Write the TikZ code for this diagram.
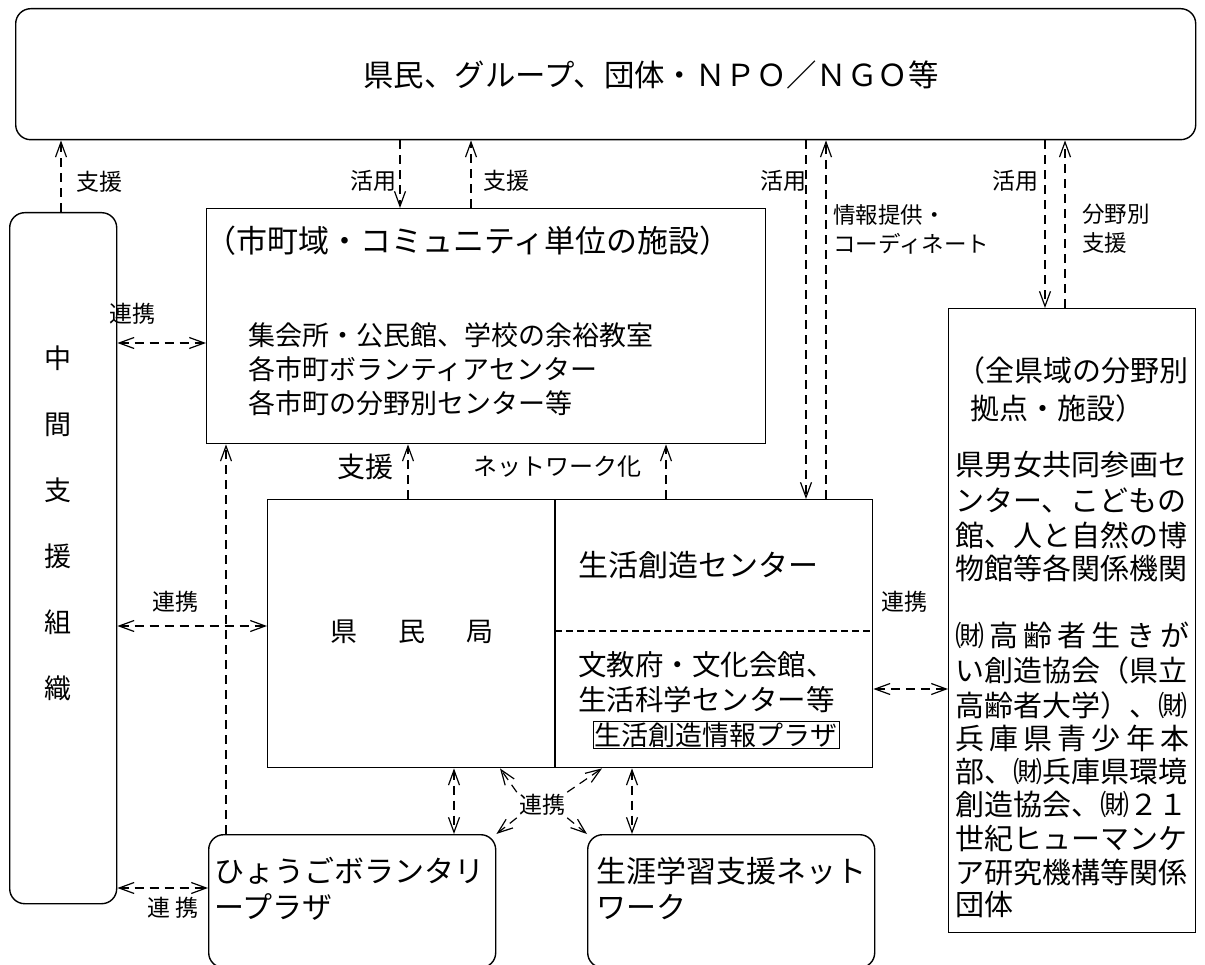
\documentclass[tikz,border=0pt]{standalone}
\usepackage{fontspec}
\setmainfont{Noto Sans CJK JP}
\usetikzlibrary{arrows.meta,positioning}
\newcommand\gr[1]{\fontsize{#1}{#1}\selectfont}
\tikzset{
  %Define standard arrow tip
  >={Straight Barb[length=15pt,width=11pt,line width=1.2pt]},
  %Define style for boxes
  kasten/.style={
    draw=black, line width=1.4pt,
    inner sep=0pt,
    anchor=north west},
  rkasten/.style={kasten, rounded corners=15pt},
  % Define arrow style
  pil/.style={
    line width=1.2pt,
    dash pattern=on 9pt off 6pt},
  % Define style for texts
  txt/.style={inner sep=0pt, font=\gr{27}},
  lbl/.style={inner sep=0pt, font=\gr{23}}
}

\begin{document}
\begin{tikzpicture}[x=1pt,y=-1pt]
  \useasboundingbox (0,0) rectangle (1205,965);
  % boxes
  \node[rkasten, minimum width=1180pt, minimum height=131pt] (top) at (15,8) {};
  \node[rkasten, minimum width=107pt, minimum height=691pt] (lbox) at (9,212) {};
  \node[kasten, minimum width=559pt, minimum height=235pt] (muni) at (206,208) {};
  \node[kasten, minimum width=605pt, minimum height=268pt] (kyoku) at (267,499) {};
  \node[kasten, minimum width=247pt, minimum height=624pt] (rbox) at (948,308) {};
  \node[rkasten, minimum width=287pt, minimum height=133pt] (hyogo) at (208,834) {};
  \node[rkasten, minimum width=287pt, minimum height=133pt] (shogai) at (587,834) {};
  \draw[line width=1.4pt] (555,0 |- kyoku.north) -- (555,0 |- kyoku.south);
  \draw[line width=1.2pt, dash pattern=on 7pt off 4pt] (555,631) -- (kyoku.east |- 0,631);

  % texts
  \node[txt, font=\gr{30.4}] (toptxt) at (651,75) {県民、グループ、団体・ＮＰＯ／ＮＧＯ等};
  \node[txt, align=center, font=\fontsize{27}{66}\selectfont] (lboxtxt) at (58,523)
    {中\\間\\支\\援\\組\\織};
  \node[txt, font=\gr{31}] (munitxt) at (468,241) {（市町域・コミュニティ単位の施設）};
  \node[txt, anchor=north west, align=left, font=\fontsize{27}{34}\selectfont] (munilist) at (248,322)
    {集会所・公民館、学校の余裕教室\\各市町ボランティアセンター\\各市町の分野別センター等};
  \node[txt] (kyokutxt) at (412,632) {県\hspace{41pt}民\hspace{41pt}局};
  \node[txt, anchor=west, font=\gr{30}] (seikatsu) at (578,565) {生活創造センター};
  \node[txt, anchor=north west, align=left, font=\fontsize{28.5}{35}\selectfont] (bunkyo) at (578,651)
    {文教府・文化会館、\\生活科学センター等};
  \node[draw, line width=1pt, inner sep=1.5pt, font=\gr{27}] (plaza) at (716,735) {生活創造情報プラザ};
  \node[txt, anchor=west, font=\gr{29}] (rhead1) at (956,370) {（全県域の分野別};
  \node[txt, anchor=west, font=\gr{29}] (rhead2) at (970,408) {拠点・施設）};
  \foreach \y/\t [count=\i] in {465/県男女共同参画セ, 500/ンター、こどもの,
      535/館、人と自然の博, 568/物館等各関係機関, 635/㈶ 高 齢 者 生 き が,
      670/い創造協会（県立, 705/高齢者大学）、㈶, 738/兵 庫 県 青 少 年 本,
      772/部、㈶兵庫県環境, 805/創造協会、㈶２１, 838/世紀ヒューマンケ,
      872/ア研究機構等関係}
    \node[txt, anchor=west, font=\gr{29}] (rl\i) at (955,\y) {\makebox[234pt][s]{\t}};
  \node[txt, anchor=west, font=\gr{29}] (rl13) at (955,905) {団体};
  \node[txt, anchor=north west, align=left, font=\fontsize{30}{36}\selectfont] (hyogotxt) at (214,857)
    {ひょうごボランタリ\\ープラザ};
  \node[txt, anchor=north west, align=left, font=\fontsize{30}{36}\selectfont] (shogaitxt) at (596,857)
    {生涯学習支援ネット\\ワーク};

  % connectors to the top box
  \draw[pil,->] (61,0 |- lbox.north) -- (61,0 |- top.south);
  \draw[pil,->] (400,0 |- top.south) -- (400,0 |- muni.north);
  \draw[pil,->] (471,0 |- muni.north) -- (471,0 |- top.south);
  \draw[pil,->] (806,0 |- top.south) -- (806,0 |- kyoku.north);
  \draw[pil,->] (826,0 |- kyoku.north) -- (826,0 |- top.south);
  \draw[pil,->] (1045,0 |- top.south) -- (1045,0 |- rbox.north);
  \draw[pil,->] (1065,0 |- rbox.north) -- (1065,0 |- top.south);
  \node[lbl] (l1) at (99,182) {支援};
  \node[lbl] (l2) at (373,181) {活用};
  \node[lbl] (l3) at (506,181) {支援};
  \node[lbl] (l4) at (783,181) {活用};
  \node[lbl, anchor=west, align=left, font=\fontsize{22.5}{29}\selectfont] (l5) at (833,229)
    {情報提供・\\コーディネート};
  \node[lbl] (l6) at (1015,181) {活用};
  \node[lbl, anchor=west, align=left, font=\fontsize{22.5}{29}\selectfont] (l7) at (1082,229)
    {分野別\\支援};

  % connectors between the boxes
  \draw[pil,->] (408,0 |- kyoku.north) -- (408,0 |- muni.south);
  \draw[pil,->] (666,0 |- kyoku.north) -- (666,0 |- muni.south);
  \draw[pil,->] (226,0 |- hyogo.north) -- (226,0 |- muni.south);
  \node[lbl, font=\gr{28}] (l8) at (365,467) {支援};
  \node[lbl, font=\gr{24}] (l9) at (557,467) {ネットワーク化};
  \draw[pil,<->] (lbox.east |- 0,343) -- (muni.west |- 0,343);
  \draw[pil,<->] (lbox.east |- 0,626) -- (kyoku.west |- 0,626);
  \draw[pil,<->] (lbox.east |- 0,888) -- (hyogo.west |- 0,888);
  \draw[pil,<->] (kyoku.east |- 0,689) -- (rbox.west |- 0,689);
  \node[lbl] (l10) at (132,314) {連携};
  \node[lbl] (l11) at (175,602) {連携};
  \node[lbl] (l12) at (173,908) {連\hspace{6pt}携};
  \node[lbl] (l13) at (904,602) {連携};
  \draw[pil,<->] (454,0 |- kyoku.south) -- (454,0 |- hyogo.north);
  \draw[pil,<->] (632,0 |- kyoku.south) -- (632,0 |- shogai.north);
  \node[lbl, inner sep=2pt] (rk) at (542,805) {連携};
  \draw[pil,->] (rk.north west) -- (500,0 |- kyoku.south);
  \draw[pil,->] (rk.north east) -- (602,0 |- kyoku.south);
  \draw[pil,->] (rk.south west) -- (hyogo.north east);
  \draw[pil,->] (rk.south east) -- (shogai.north west);
\end{tikzpicture}
\end{document}
